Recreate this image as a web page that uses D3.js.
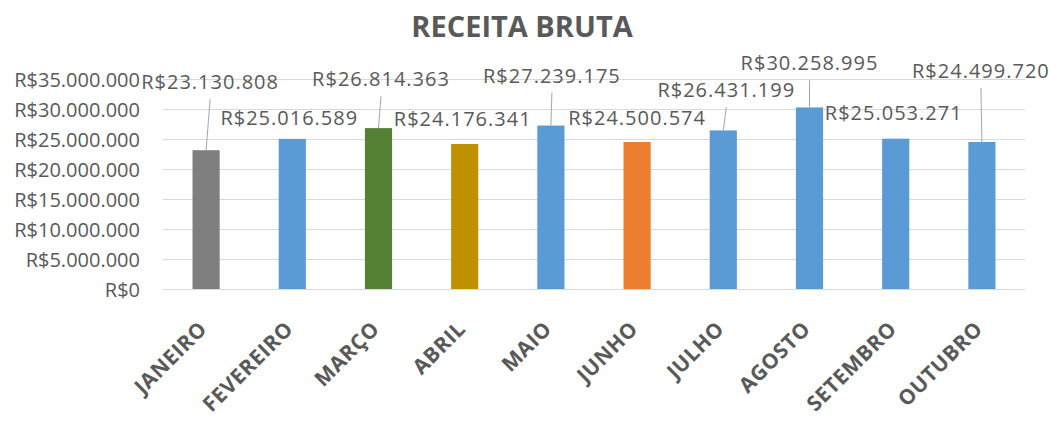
<!DOCTYPE html>
<html>
<head>
<meta charset="utf-8">
<script src="https://cdn.jsdelivr.net/npm/d3@7"></script>
<style>
  body { margin: 0; background: #fff; }
  text { font-family: "Open Sans", sans-serif; fill: #595959; }
</style>
</head>
<body>
<div id="chart"></div>
<script>
var months = ["JANEIRO", "FEVEREIRO", "MARÇO", "ABRIL", "MAIO",
              "JUNHO", "JULHO", "AGOSTO", "SETEMBRO", "OUTUBRO"];
var receita = [23130808, 25016589, 26814363, 24176341, 27239175,
               24500574, 26431199, 30258995, 25053271, 24499720];
var yTicks = [0, 5000000, 10000000, 15000000, 20000000, 25000000, 30000000, 35000000];

// styling / layout (not data)
var barColors = ["#7f7f7f", "#5b9bd5", "#548235", "#bf9000", "#5b9bd5",
                 "#ed7d31", "#5b9bd5", "#5b9bd5", "#5b9bd5", "#5b9bd5"];
// manual label placement relative to bar top: [dx, dy, leader line]
var labelPos = [[4, -68, true], [-3, -21, false], [2.5, -49, true], [-2, -25, false], [1, -50, true],
                [0, -24, false], [3, -40, true], [0, -44, true], [-2, -26, false], [-1, -71, true]];

var width = 1050;
var height = 428;
var plot = {left: 163, right: 1025, top: 79, bottom: 289};

function brl(v) {
    // 23130808 -> R$23.130.808
    return "R$" + d3.format(",")(v).replace(/,/g, ".");
}

var x = d3.scaleBand()
    .domain(months)
    .range([plot.left, plot.right])
    .paddingInner(0.685)
    .paddingOuter(0.3425);
var y = d3.scaleLinear().domain([0, 35000000]).range([plot.bottom, plot.top]);

var svg = d3.select("#chart")
    .append("svg")
    .attr("width", width)
    .attr("height", height);

// title
svg.append("text")
    .attr("x", 522)
    .attr("y", 37)
    .attr("text-anchor", "middle")
    .style("font-size", "29px")
    .style("font-weight", "bold")
    .text("RECEITA BRUTA");

// gridlines
svg.append("g")
    .selectAll("line")
    .data(yTicks)
    .join("line")
    .attr("x1", plot.left)
    .attr("x2", plot.right)
    .attr("y1", d => Math.round(y(d)) + 0.5)
    .attr("y2", d => Math.round(y(d)) + 0.5)
    .attr("stroke", "#d9d9d9")
    .attr("stroke-width", 1);

// y axis labels
var yAxis = d3.axisLeft(y).tickValues(yTicks).tickSize(0).tickPadding(0).tickFormat(brl);
svg.append("g")
    .attr("class", "y axis")
    .attr("transform", "translate(140,0)")
    .call(yAxis)
    .call(g => g.select(".domain").remove())
    .selectAll("text")
    .attr("font-family", null)
    .attr("font-size", null)
    .style("font-size", "20px")
    .attr("dy", "0.35em");

// bars
svg.append("g")
    .selectAll("rect")
    .data(receita)
    .join("rect")
    .attr("x", (d, i) => x(months[i]))
    .attr("width", x.bandwidth())
    .attr("y", d => y(d))
    .attr("height", d => y(0) - y(d))
    .attr("fill", (d, i) => barColors[i]);

// x axis labels (rotated)
svg.append("g")
    .selectAll("text")
    .data(months)
    .join("text")
    .attr("transform", d => "translate(" + (x(d) + x.bandwidth() / 2 - 3) + ",325) rotate(-45)")
    .attr("text-anchor", "end")
    .attr("dy", "0.35em")
    .style("font-size", "21px")
    .style("font-weight", "bold")
    .style("letter-spacing", "0.6px")
    .text(d => d);

// leader lines
svg.append("g")
    .selectAll("line")
    .data(receita.filter((d, i) => labelPos[i][2]).map(d => receita.indexOf(d)))
    .join("line")
    .attr("x1", i => x(months[i]) + x.bandwidth() / 2 + labelPos[i][0])
    .attr("y1", i => y(receita[i]) + labelPos[i][1] + 17)
    .attr("x2", i => x(months[i]) + x.bandwidth() / 2)
    .attr("y2", i => y(receita[i]))
    .attr("stroke", "#a6a6a6")
    .attr("stroke-width", 1);

// data labels
svg.append("g")
    .selectAll("text")
    .data(receita)
    .join("text")
    .attr("x", (d, i) => x(months[i]) + x.bandwidth() / 2 + labelPos[i][0])
    .attr("y", (d, i) => y(d) + labelPos[i][1])
    .attr("dy", "0.35em")
    .attr("text-anchor", "middle")
    .style("font-size", "20px")
    .style("letter-spacing", "1px")
    .text(d => brl(d));
</script>
</body>
</html>
